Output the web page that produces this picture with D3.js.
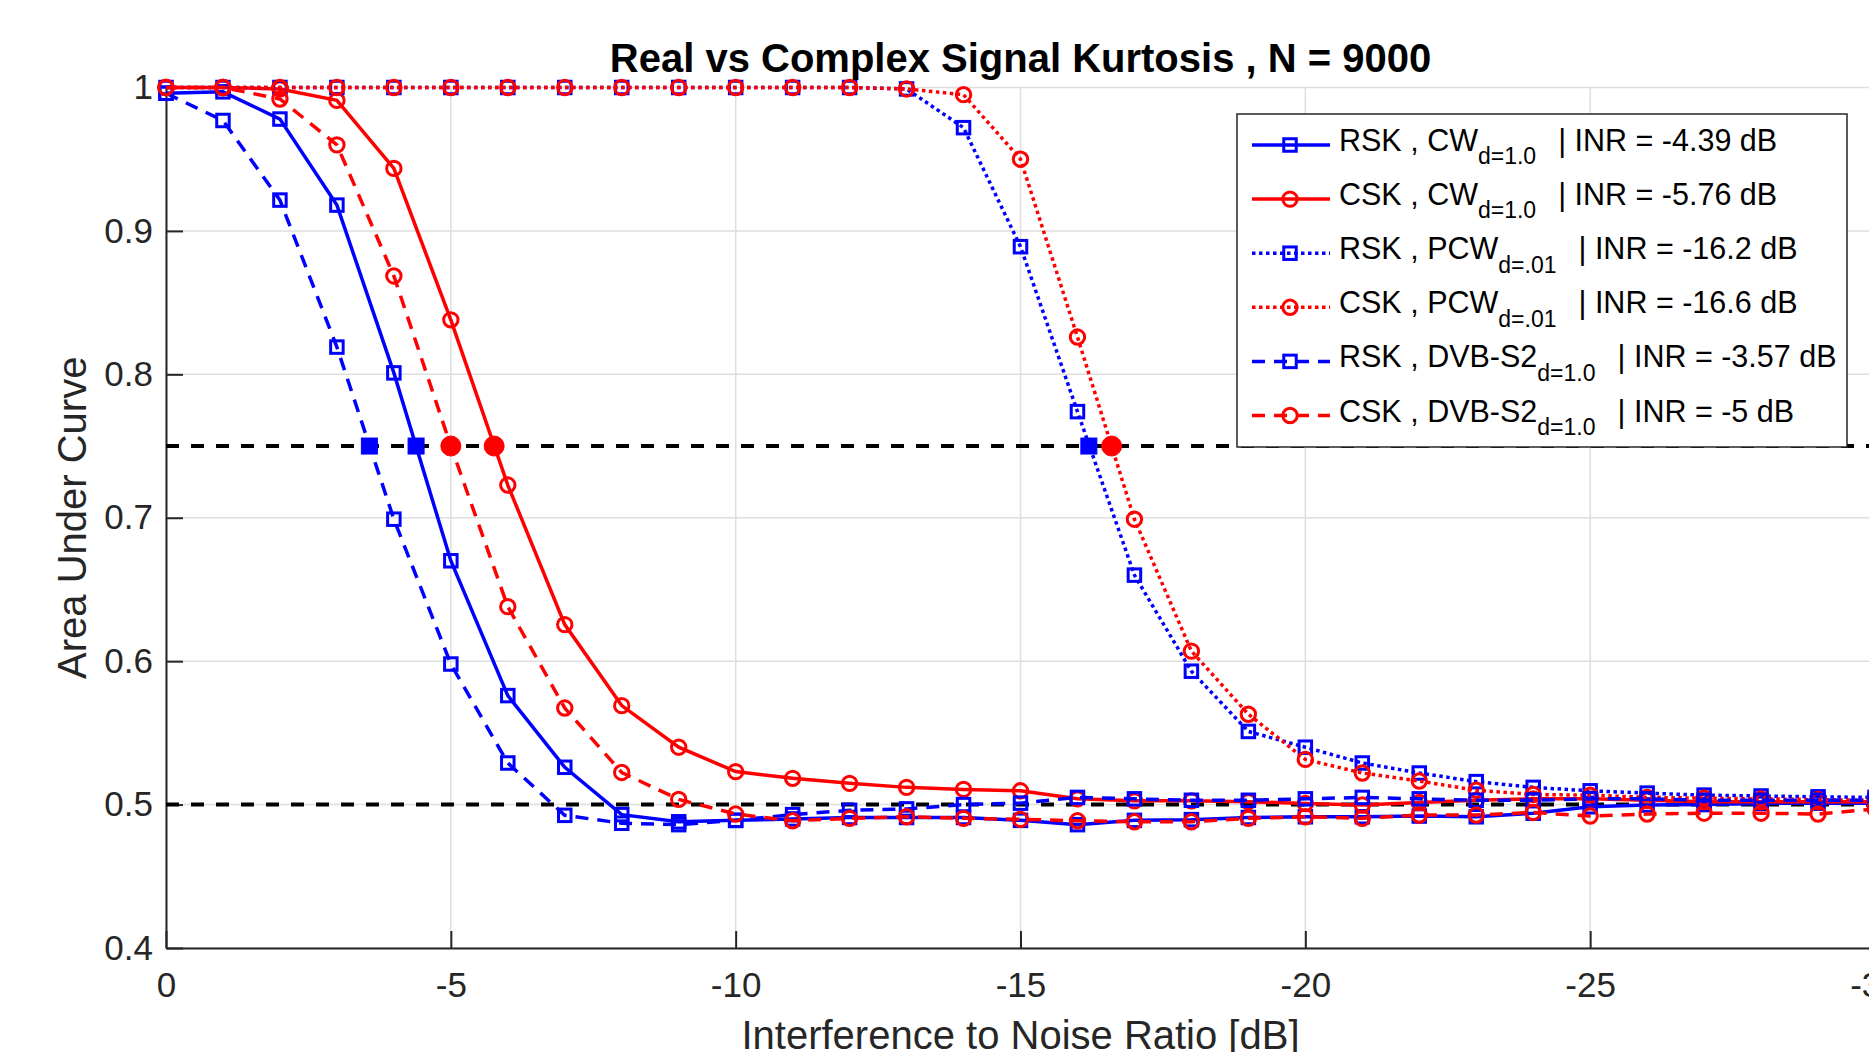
<!DOCTYPE html>
<html>
<head>
<meta charset="utf-8">
<script src="https://cdn.jsdelivr.net/npm/d3@7"></script>
<style>
body { margin: 0; overflow: hidden; background: #fff; }
svg { font-family: "Liberation Sans", Arial, sans-serif; }
.grid line { stroke: #dedede; stroke-width: 1.5px; }
.axis path, .axis line { stroke: #262626; stroke-width: 2px; }
.axis text { fill: #262626; font-size: 35px; }
</style>
</head>
<body>
<svg width="1869" height="1052"></svg>
<script>

// INR sweep (dB) and AUC per curve
var inrGrid = [0, -1, -2, -3, -4, -5, -6, -7, -8, -9, -10, -11, -12, -13, -14, -15,
	-16, -17, -18, -19, -20, -21, -22, -23, -24, -25, -26, -27, -28, -29, -30];

var rskCW = [0.996, 0.997, 0.978, 0.918, 0.801, 0.670, 0.576, 0.526, 0.493, 0.488, 0.489,
	0.490, 0.491, 0.491, 0.491, 0.489, 0.486, 0.489, 0.4895, 0.491, 0.4915, 0.4915, 0.492,
	0.4915, 0.494, 0.4985, 0.4997, 0.500, 0.5008, 0.501, 0.501];
var cskCW = [1.0, 1.0, 0.999, 0.991, 0.9436, 0.838, 0.7228, 0.6255, 0.569, 0.540, 0.523,
	0.5183, 0.5148, 0.512, 0.5106, 0.5096, 0.504, 0.5026, 0.5026, 0.502, 0.5008, 0.4997,
	0.5015, 0.503, 0.504, 0.504, 0.503, 0.502, 0.502, 0.502, 0.502];
var rskPCW = [1, 1, 1, 1, 1, 1, 1, 1, 1, 1, 1, 1, 1, 0.999, 0.972, 0.889, 0.774, 0.660,
	0.593, 0.551, 0.540, 0.529, 0.522, 0.516, 0.512, 0.5096, 0.508, 0.5066, 0.506, 0.5054, 0.505];
var cskPCW = [1, 1, 1, 1, 1, 1, 1, 1, 1, 1, 1, 1, 1, 0.999, 0.995, 0.950, 0.826, 0.699,
	0.607, 0.563, 0.5315, 0.522, 0.5164, 0.510, 0.507, 0.5066, 0.505, 0.5045, 0.504, 0.5035, 0.503];
var rskDVB = [0.996, 0.977, 0.9215, 0.819, 0.699, 0.598, 0.529, 0.4925, 0.487, 0.486, 0.489,
	0.493, 0.496, 0.497, 0.500, 0.501, 0.505, 0.504, 0.503, 0.503, 0.504, 0.505, 0.504, 0.503,
	0.503, 0.504, 0.504, 0.503, 0.503, 0.503, 0.503];
var cskDVB = [1.0, 1.0, 0.992, 0.960, 0.8686, 0.750, 0.638, 0.5673, 0.5224, 0.5036, 0.4934,
	0.4887, 0.4904, 0.4915, 0.4904, 0.4897, 0.4887, 0.488, 0.488, 0.4904, 0.4915, 0.4904,
	0.4927, 0.4927, 0.4945, 0.492, 0.4934, 0.494, 0.494, 0.4934, 0.497];

var seriesNames = ["RSK , CW", "CSK , CW", "RSK , PCW", "CSK , PCW", "RSK , DVB-S2", "CSK , DVB-S2"];
var seriesSubs = ["d=1.0", "d=1.0", "d=.01", "d=.01", "d=1.0", "d=1.0"];
var inrAt75 = [-4.39, -5.76, -16.2, -16.6, -3.57, -5]; // where each curve crosses AUC = 0.75
var refLevels = [0.75, 0.5];

var xTicks = [0, -5, -10, -15, -20, -25, -30];
var xTickLabels = ["0", "-5", "-10", "-15", "-20", "-25", "-30"];
var yTicks = [0.4, 0.5, 0.6, 0.7, 0.8, 0.9, 1];
var yTickLabels = ["0.4", "0.5", "0.6", "0.7", "0.8", "0.9", "1"];

var seriesValues = [rskCW, cskCW, rskPCW, cskPCW, rskDVB, cskDVB];
var blue = "#0000ff", red = "#ff0000";
var styles = [
	{color: blue, dash: null, mark: "square"},
	{color: red, dash: null, mark: "circle"},
	{color: blue, dash: "3.5,3.5", mark: "square"},
	{color: red, dash: "3.5,3.5", mark: "circle"},
	{color: blue, dash: "13,9", mark: "square"},
	{color: red, dash: "13,9", mark: "circle"}
];

var svg = d3.select("svg");
var pL = 166, pR = 1875, pT = 87.5, pB = 948;

var x = d3.scaleLinear().domain([0, -30]).range([pL, pR]);
var y = d3.scaleLinear().domain([0.4, 1]).range([pB, pT]);

// grid
var grid = svg.append("g").attr("class", "grid");
grid.selectAll("line.v").data(xTicks).enter().append("line")
	.attr("x1", function(d) { return x(d); }).attr("x2", function(d) { return x(d); })
	.attr("y1", pT).attr("y2", pB);
grid.selectAll("line.h").data(yTicks).enter().append("line")
	.attr("y1", function(d) { return y(d); }).attr("y2", function(d) { return y(d); })
	.attr("x1", pL).attr("x2", pR);

// axes, ticks pointing inward
svg.append("g")
	.attr("class", "axis")
	.attr("transform", "translate(0," + pB + ")")
	.call(d3.axisBottom(x).tickValues(xTicks).tickSizeInner(-17).tickSizeOuter(0).tickPadding(24)
		.tickFormat(function(d, i) { return xTickLabels[i]; }));
svg.append("g")
	.attr("class", "axis")
	.attr("transform", "translate(" + pL + ",0)")
	.call(d3.axisLeft(y).tickValues(yTicks).tickSizeInner(-17).tickSizeOuter(0).tickPadding(13)
		.tickFormat(function(d, i) { return yTickLabels[i]; }));

// reference levels
svg.selectAll("line.ref").data(refLevels).enter().append("line")
	.attr("x1", x(0)).attr("x2", x(-30))
	.attr("y1", function(d) { return y(d); }).attr("y2", function(d) { return y(d); })
	.attr("stroke", "#000").attr("stroke-width", 4).attr("stroke-dasharray", "13,12");

var line = d3.line()
	.x(function(d, i) { return x(inrGrid[i]); })
	.y(function(d) { return y(d); });

function drawMarker(g, mark, color, cx, cy, filled) {
	if (mark == "square") {
		var s = filled ? 16 : 12.5;
		g.append("rect").attr("x", cx - s / 2).attr("y", cy - s / 2).attr("width", s).attr("height", s)
			.attr("fill", filled ? color : "none").attr("stroke", color).attr("stroke-width", filled ? 1 : 3);
	} else {
		g.append("circle").attr("cx", cx).attr("cy", cy).attr("r", filled ? 10 : 7.2)
			.attr("fill", filled ? color : "none").attr("stroke", color).attr("stroke-width", filled ? 1 : 3);
	}
}

seriesValues.forEach(function(vals, k) {
	var st = styles[k];
	var g = svg.append("g");
	g.append("path")
		.datum(vals)
		.attr("d", line)
		.attr("fill", "none")
		.attr("stroke", st.color)
		.attr("stroke-width", 3.5)
		.attr("stroke-dasharray", st.dash);
	vals.forEach(function(v, i) {
		drawMarker(g, st.mark, st.color, x(inrGrid[i]), y(v), false);
	});
});

// crossing points at 0.75
inrAt75.forEach(function(inr, k) {
	drawMarker(svg, styles[k].mark, styles[k].color, x(inr), y(refLevels[0]), true);
});

// legend
var lg = svg.append("g");
lg.append("rect").attr("x", 1237).attr("y", 114).attr("width", 610).attr("height", 333)
	.attr("fill", "#fff").attr("stroke", "#262626").attr("stroke-width", 1.5);
seriesNames.forEach(function(name, k) {
	var st = styles[k];
	var cy = 145 + k * 54.1;
	lg.append("line").attr("x1", 1252).attr("x2", 1330).attr("y1", cy).attr("y2", cy)
		.attr("stroke", st.color).attr("stroke-width", 3.5).attr("stroke-dasharray", st.dash);
	drawMarker(lg, st.mark, st.color, 1290, cy, false);
	var t = lg.append("text").attr("x", 1339).attr("y", cy + 6)
		.attr("font-size", 30.5).attr("fill", "#000");
	t.append("tspan").text(name);
	t.append("tspan").attr("dy", 13.3).attr("font-size", 23).text(seriesSubs[k]);
	t.append("tspan").attr("dy", -13.3).attr("dx", 22).text("| INR = " + inrAt75[k] + " dB");
});

// titles
svg.append("text")
	.attr("x", (pL + pR) / 2).attr("y", 71.7)
	.attr("text-anchor", "middle").attr("font-size", 40).attr("font-weight", "bold").attr("fill", "#000")
	.text("Real vs Complex Signal Kurtosis , N = 9000");
svg.append("text")
	.attr("x", (pL + pR) / 2).attr("y", 1048.5)
	.attr("text-anchor", "middle").attr("font-size", 40).attr("fill", "#262626")
	.text("Interference to Noise Ratio [dB]");
svg.append("text")
	.attr("transform", "translate(86," + (pT + pB) / 2 + ") rotate(-90)")
	.attr("text-anchor", "middle").attr("font-size", 40).attr("fill", "#262626")
	.text("Area Under Curve");

</script>
</body>
</html>
